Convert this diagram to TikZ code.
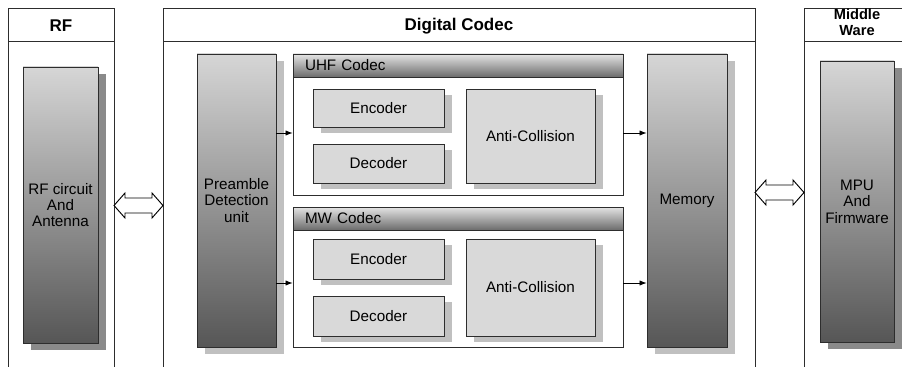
\documentclass[tikz,border=0pt]{standalone}
\usepackage{fontspec}
\setmainfont{Liberation Sans}
\usetikzlibrary{arrows.meta,shadows,calc}
\definecolor{blocktop}{RGB}{214,214,214}
\definecolor{blockbottom}{RGB}{86,86,86}
\definecolor{headtop}{RGB}{228,228,228}
\definecolor{headbottom}{RGB}{108,108,108}
\definecolor{boxfill}{RGB}{217,217,217}
\definecolor{lightshadow}{RGB}{192,192,192}
\definecolor{darkshadow}{RGB}{138,138,138}
\definecolor{edgegray}{RGB}{45,45,45}
\newcommand{\pxu}{0.03cm}

\begin{document}
\begin{tikzpicture}[x=0.03cm, y=-0.03cm,
    panel/.style={draw=edgegray, line width=0.8pt},
    paneltitle/.style={font=\fontsize{14.5}{16}\selectfont\bfseries, align=center, inner sep=0pt},
    block/.style={draw=edgegray, line width=0.7pt, top color=blocktop, bottom color=blockbottom, inner sep=0pt, align=center, font=\fontsize{13}{14}\selectfont, drop shadow={shadow xshift=8*\pxu, shadow yshift=-7*\pxu, fill=#1, opacity=1}},
    block/.default=lightshadow,
    codec/.style={draw=edgegray, line width=0.7pt, fill=white, minimum width=330*\pxu, inner sep=0pt},
    codechead/.style={draw=edgegray, line width=0.7pt, top color=headtop, bottom color=headbottom, anchor=north west, text width=306*\pxu, inner xsep=12*\pxu, inner ysep=0pt, minimum height=23*\pxu, align=left, font=\fontsize{13}{14}\selectfont},
    unit/.style={draw=edgegray, line width=0.7pt, fill=boxfill, inner sep=0pt, font=\fontsize{13}{14}\selectfont, drop shadow={shadow xshift=8*\pxu, shadow yshift=-6*\pxu, fill=lightshadow, opacity=1}},
    link/.style={draw=black, line width=0.8pt, fill=white, line join=miter},
    flow/.style={-{Latex[length=6pt, width=4.5pt]}, line width=0.6pt}]
    \useasboundingbox (0,0) rectangle (902,366);
    \clip (0,0) rectangle (902,366);

    % Panels
    \draw[panel] (8,400) |- (114,8) -- (114,400);
    \draw[panel] (8,41) -- (114,41);
    \node[paneltitle] (rftitle) at (61,26) {RF};
    \draw[panel] (163,400) |- (755,8) -- (755,400);
    \draw[panel] (163,41) -- (755,41);
    \node[paneltitle] (dctitle) at (459,26) {Digital Codec};
    \draw[panel] (804,400) |- (912,8) -- (912,400);
    \draw[panel] (804,41) -- (912,41);
    \node[paneltitle, font=\fontsize{12.5}{13.6}\selectfont\bfseries] (mwtitle) at (857,22.5) {Middle\\Ware};

    % Big blocks
    \node[block=darkshadow, minimum width=75*\pxu, minimum height=276*\pxu] (rf) at (60.5,205) {RF circuit\\And\\Antenna};
    \node[block, minimum width=79*\pxu, minimum height=293*\pxu] (pre) at (236.5,200.5) {Preamble\\Detection\\unit};
    \node[block, minimum width=80*\pxu, minimum height=293*\pxu] (mem) at (687,200.5) {Memory};
    \node[block=darkshadow, minimum width=74*\pxu, minimum height=281*\pxu] (mpu) at (857,201.5) {MPU\\And\\Firmware};

    % UHF codec
    \node[codec, minimum height=141*\pxu] (uhf) at (458,124.5) {};
    \node[codechead] (uhfhead) at (uhf.north west) {UHF Codec};
    \node[unit, minimum width=131*\pxu, minimum height=38*\pxu] (uenc) at (378.5,108) {Encoder};
    \node[unit, minimum width=131*\pxu, minimum height=39*\pxu] (udec) at (378.5,163.5) {Decoder};
    \node[unit, minimum width=129*\pxu, minimum height=94*\pxu] (uac) at (530.5,136) {Anti-Collision};

    % MW codec
    \node[codec, minimum height=140*\pxu] (mw) at (458,277) {};
    \node[codechead] (mwhead) at (mw.north west) {MW Codec};
    \node[unit, minimum width=131*\pxu, minimum height=40*\pxu] (menc) at (378.5,259) {Encoder};
    \node[unit, minimum width=131*\pxu, minimum height=40*\pxu] (mdec) at (378.5,316) {Decoder};
    \node[unit, minimum width=129*\pxu, minimum height=97*\pxu] (mac) at (530.5,287.5) {Anti-Collision};

    % Connections
    \coordinate (uhfrow) at (0,133);
    \coordinate (mwrow) at (0,283);
    \draw[flow] (pre.east |- uhfrow) -- (uhf.west |- uhfrow);
    \draw[flow] (pre.east |- mwrow) -- (mw.west |- mwrow);
    \draw[flow] (uhf.east |- uhfrow) -- (mem.west |- uhfrow);
    \draw[flow] (mw.east |- mwrow) -- (mem.west |- mwrow);

    % Double arrows between panels
    \coordinate (rfend) at (114,205.5);
    \coordinate (dcstart) at (163,205.5);
    \coordinate (dcend) at (755,192.5);
    \coordinate (mwstart) at (804,192.5);
    \draw[link] (rfend) -- ++(11,-12.5) -- ++(0,5) -- ($(dcstart)+(-11,-7.5)$) -- ++(0,-5)
        -- (dcstart) -- ++(-11,12.5) -- ++(0,-5) -- ($(rfend)+(11,7.5)$) -- ++(0,5) -- cycle;
    \draw[link] (dcend) -- ++(11,-12.5) -- ++(0,5) -- ($(mwstart)+(-11,-7.5)$) -- ++(0,-5)
        -- (mwstart) -- ++(-11,12.5) -- ++(0,-5) -- ($(dcend)+(11,7.5)$) -- ++(0,5) -- cycle;
\end{tikzpicture}
\end{document}
